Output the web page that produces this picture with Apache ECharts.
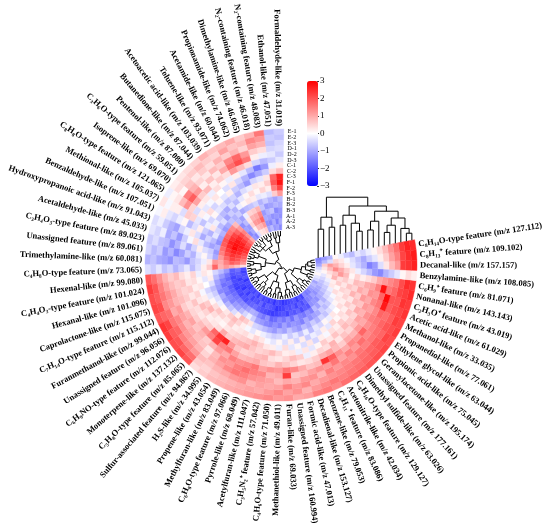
<!DOCTYPE html>
<html><head><meta charset="utf-8">
<script src="https://cdn.jsdelivr.net/npm/echarts@6/dist/echarts.min.js"></script>
<style>html,body{margin:0;padding:0;background:#fff}#c{width:550px;height:530px}</style>
</head><body><div id="c"></div>
<script>
const items = [
'Formaldehyde-like (m/z 31.019)','Ethanol-like (m/z 47.051)','N₂-containing feature (m/z 48.083)','N₂-containing feature (m/z 46.018)',
'Dimethylamine-like (m/z 46.065)','Propionamide-like (m/z 74.062)','Acetamide-like (m/z 60.044)','Toluene-like (m/z 93.071)',
'Acetoacetic acid-like (m/z 103.039)','Butanedione-like (m/z 87.044)','Pentenol-like (m/z 87.080)','C₃H₆O-type feature (m/z 59.051)',
'Isoprene-like (m/z 69.070)','C₈H₈O-type feature (m/z 121.065)','Methional-like (m/z 105.037)','Benzaldehyde-like (m/z 107.051)',
'Hydroxypropanoic acid-like (m/z 91.043)','Acetaldehyde-like (m/z 45.033)','C₃H₄O₃-type feature (m/z 89.023)','Unassigned feature (m/z 89.061)',
'Trimethylamine-like (m/z 60.081)','C₄H₈O-type feature (m/z 73.065)','Hexenal-like (m/z 99.080)','C₄H₄O₃-type feature (m/z 101.024)',
'Hexanal-like (m/z 101.096)','Caprolactone-like (m/z 115.075)','C₇H₁₄O-type feature (m/z 115.112)','Furanmethanol-like (m/z 99.044)',
'Unassigned feature (m/z 96.056)','C₆H₉NO-type feature (m/z 112.076)','Monoterpene-like (m/z 137.132)','C₅H₈O-type feature (m/z 85.065)',
'Sulfur-associated feature (m/z 94.867)','H₂S-like (m/z 34.995)','Propene-like (m/z 43.054)','Methylfuran-like (m/z 83.049)',
'C₆H₈O-type feature (m/z 97.066)','Pyrrole-like (m/z 68.049)','Acetylfuran-like (m/z 111.047)','C₃H₅N₂⁺ feature (m/z 57.042)',
'C₄H₆O-type feature (m/z 71.050)','Methanethiol-like (m/z 49.011)','Furan-like (m/z 69.033)','Unassigned feature (m/z 160.994)',
'Formic acid-like (m/z 47.013)','Decadienal-like (m/z 153.127)','Benzene-like (m/z 79.053)','C₆H₁₁⁺ feature (m/z 83.086)',
'Acetonitrile-like (m/z 42.034)','C₈H₁₆O-type feature (m/z 129.127)','Dimethyl sulfide-like (m/z 63.026)','Unassigned feature (m/z 177.161)',
'Geranylacetone-like (m/z 195.174)','Propionic acid-like (m/z 75.045)','Ethylene glycol-like (m/z 63.044)','Propanediol-like (m/z 77.061)',
'Methanol-like (m/z 33.035)','Acetic acid-like (m/z 61.029)','C₂H₃O⁺ feature (m/z 43.019)','Nonanal-like (m/z 143.143)',
'C₆H₉⁺ feature (m/z 81.071)','Benzylamine-like (m/z 108.085)','Decanal-like (m/z 157.157)','C₈H₁₃⁺ feature (m/z 109.102)',
'C₈H₁₄O-type feature (m/z 127.112)'
];
// rings, outer to inner
const rings = ['E-1','E-2','E-3','D-1','D-2','D-3','C-1','C-2','C-3','F-1','F-2','F-3','B-1','B-2','B-3','A-1','A-2','A-3'];
// z-scores per item, ring order as above
const values = [
[-0.6,-0.7,-0.5,-0.4,-0.6,-0.3,0.2,0.8,2.6,2.8,2.2,1.2,-0.8,-1.0,-1.2,-1.3,-1.0,-1.4],
[-0.8,-0.6,-0.7,-0.5,-0.3,-0.6,-0.2,0.4,1.8,2.0,1.5,0.6,-1.1,-0.9,-1.4,-1.2,-1.5,-1.1],
[1.6,1.2,0.9,0.4,-0.2,-0.8,-1.2,-0.6,0.3,0.6,0.2,-0.4,-0.9,-1.1,-0.7,-1.3,-1.0,-1.2],
[0.9,1.4,1.1,0.6,0.2,-0.5,-1.6,-1.0,-0.3,0.2,0.5,-0.2,-0.6,-1.2,-0.9,-1.1,-1.4,-0.8],
[0.6,0.8,0.5,1.2,1.6,0.4,-0.8,-1.4,-0.5,0.3,0.1,-0.3,-0.9,-0.7,-1.2,-1.0,-1.3,-1.1],
[1.0,0.7,0.9,1.8,2.1,0.8,-0.3,-0.9,-1.2,-0.2,0.4,0.2,-0.5,0.9,1.4,1.8,1.2,0.6],
[0.8,1.1,0.6,1.4,1.7,1.2,0.2,-0.5,-0.8,-0.4,0.1,0.3,-0.7,0.6,1.0,1.3,0.9,0.4],
[0.7,0.5,0.9,0.6,1.0,0.4,-0.2,0.3,-0.6,-0.9,-0.3,0.1,-0.8,0.5,0.9,1.2,0.8,0.3],
[0.9,0.6,0.4,0.8,0.3,0.6,0.1,-0.4,0.2,-0.5,-0.8,-0.2,-1.0,-0.2,0.3,0.5,0.2,-0.4],
[0.5,0.8,0.6,0.3,0.7,0.2,0.4,0.0,-0.3,-0.7,-0.4,-0.9,-0.6,-1.1,-0.8,-1.2,-1.0,-1.4],
[0.4,0.6,0.3,0.5,0.2,0.8,-0.2,0.3,0.1,-0.4,-1.0,-0.6,-0.9,-0.8,-1.3,-1.1,-1.4,-1.2],
[0.3,0.5,0.7,0.9,1.2,0.6,0.3,-0.1,-0.5,-0.3,-0.8,-1.1,-0.7,0.8,1.2,1.5,1.3,1.0],
[0.2,0.4,0.1,1.5,1.9,1.1,0.2,-0.3,0.4,0.1,-0.6,-0.4,-1.0,1.4,1.8,2.1,1.9,1.6],
[-0.2,0.1,0.3,0.8,1.3,0.5,-0.4,0.2,-0.1,-0.5,-0.2,-0.8,-1.2,1.6,2.2,2.5,2.3,2.0],
[0.3,-0.1,0.2,0.2,-0.4,0.6,0.5,-0.3,-0.7,-0.2,0.3,-0.5,-0.9,1.8,2.4,2.7,2.6,2.2],
[-0.1,0.2,-0.3,-0.5,-0.2,0.1,-0.8,-0.4,0.2,-0.6,-0.9,-0.3,-1.1,2.0,2.6,2.8,2.7,2.5],
[-0.4,-0.2,-0.6,-0.9,-1.1,-0.5,-0.2,0.3,-0.4,-1.0,-0.5,-0.8,-1.3,1.9,2.5,2.9,2.6,2.4],
[-0.3,-0.5,-0.2,-1.0,-0.7,-1.2,-0.6,-0.1,0.4,-0.3,-0.8,-1.1,-0.9,1.7,2.3,2.6,2.5,2.1],
[-0.6,-0.4,-0.7,-0.8,-1.3,-0.9,-0.4,-1.0,-0.5,0.2,-0.4,-0.6,-1.2,1.5,2.1,2.4,2.2,1.9],
[-0.5,-0.8,-0.6,-1.2,-0.9,-1.4,-1.1,-0.6,-0.9,-0.3,0.1,-0.5,-1.0,1.2,1.8,2.2,2.0,1.6],
[-0.9,-0.7,-1.0,-1.1,-1.3,-0.8,-0.9,-1.2,-0.7,-0.5,-0.2,0.3,1.2,1.0,1.5,1.9,1.7,1.3],
[-0.4,-0.6,-0.3,-0.7,-0.5,-0.9,-0.6,-0.3,-0.8,-0.4,0.2,0.6,1.8,0.9,1.2,1.0,0.7,0.4],
[2.0,1.7,1.3,0.9,0.6,0.8,0.4,0.2,0.5,-0.2,0.3,0.1,-0.5,-0.8,-1.2,-1.9,-1.7,-2.1],
[2.3,2.0,1.5,1.1,0.8,0.6,0.7,0.3,0.4,0.1,-0.3,0.2,-0.8,-1.2,-1.6,-2.0,-1.9,-2.3],
[2.1,1.9,1.6,1.3,1.0,0.7,0.5,0.6,0.2,0.3,0.0,-0.4,-1.1,-1.5,-1.8,-2.2,-2.0,-2.1],
[2.2,2.1,1.4,1.2,0.9,0.8,0.6,0.3,0.5,-0.1,-0.5,-0.8,-1.2,-1.7,-1.6,-2.1,-2.3,-2.0],
[2.0,1.8,1.7,1.0,1.2,0.6,0.4,0.7,0.3,0.2,-0.3,-0.6,-1.4,-1.5,-1.9,-2.2,-2.1,-2.4],
[2.4,2.2,1.6,1.4,1.1,0.9,0.5,0.4,0.8,0.6,0.1,-0.4,-1.0,-1.6,-1.8,-2.3,-2.2,-2.1],
[2.3,1.9,1.8,1.3,0.9,1.1,0.6,0.3,0.5,0.9,0.4,-0.2,-1.2,-1.4,-1.7,-2.1,-2.4,-2.2],
[2.1,2.0,1.5,1.2,1.0,0.7,0.8,0.5,0.2,0.4,0.7,0.1,-0.9,-1.5,-1.6,-2.2,-2.0,-2.3],
[2.2,1.8,1.4,1.1,0.8,0.9,1.2,0.6,0.3,0.2,0.5,0.3,-0.7,-1.2,-1.5,-2.0,-2.3,-2.1],
[2.0,1.7,1.2,0.9,0.7,0.6,1.5,1.8,0.4,0.1,0.3,0.6,-0.4,-1.1,-1.4,-2.1,-1.9,-2.2],
[0.4,0.6,0.8,0.5,0.3,0.9,2.2,2.4,1.0,0.3,0.6,0.8,0.2,-0.8,-1.3,-1.9,-2.2,-2.0],
[0.6,0.5,0.7,0.9,0.8,1.2,1.5,2.6,0.6,0.4,0.2,0.5,0.8,-0.5,-1.1,-1.8,-2.0,-2.3],
[0.8,0.7,0.9,1.1,1.3,1.0,1.6,1.2,0.8,0.5,0.3,0.2,0.6,-0.2,-0.9,-1.7,-2.1,-1.9],
[0.9,0.8,1.0,1.4,1.2,1.5,1.1,0.7,0.9,0.6,0.4,-0.1,0.3,-0.6,-1.0,-1.9,-1.8,-2.2],
[1.0,0.9,1.2,1.6,1.5,1.3,0.8,0.5,1.0,0.7,0.2,-0.3,-0.5,-1.1,-1.4,-2.0,-2.2,-2.1],
[1.1,1.0,1.3,1.5,1.7,1.4,0.9,0.6,0.7,0.9,0.5,0.1,-0.6,-1.2,-1.6,-2.1,-1.9,-2.3],
[1.2,1.1,0.9,1.3,1.5,1.6,1.0,0.8,0.5,0.6,0.3,-0.2,-0.8,-1.4,-1.3,-2.2,-2.0,-2.1],
[1.3,1.0,1.1,1.2,1.4,1.1,0.7,0.9,0.6,0.3,-0.1,-0.4,-1.0,-1.5,-1.8,-2.3,-2.1,-2.4],
[1.4,1.2,1.0,1.1,0.9,1.3,0.6,0.4,0.8,0.2,-0.3,-0.6,-1.2,-1.3,-1.7,-2.2,-2.4,-2.1],
[1.2,1.4,1.1,0.8,1.0,1.2,0.9,0.3,0.5,-0.2,0.1,-0.5,-0.9,-1.5,-1.4,-2.1,-2.3,-2.2],
[1.3,1.1,1.5,1.0,2.3,1.6,0.7,0.5,0.2,0.4,-0.4,-0.2,-1.1,-1.1,-1.6,-2.0,-2.2,-2.4],
[1.0,1.3,1.2,0.9,0.7,1.4,0.5,0.8,0.3,-0.3,0.2,-0.6,-0.7,-1.4,-1.3,-2.2,-2.0,-2.3],
[1.1,0.9,1.4,1.2,0.8,1.0,0.3,0.6,-0.2,0.1,-0.5,-0.3,-1.0,-1.2,-1.7,-1.9,-2.1,-2.2],
[1.5,1.2,1.0,1.3,1.1,0.7,0.4,-0.2,0.3,-0.4,0.2,-0.7,-1.2,-1.3,-1.2,-2.0,-1.9,-2.1],
[1.6,1.4,1.2,0.9,1.3,0.8,0.6,0.2,-0.3,0.3,-0.6,-0.2,-0.8,-1.5,-1.5,-1.8,-2.2,-2.0],
[1.4,1.6,1.3,1.5,1.2,2.4,0.9,0.5,0.1,-0.5,-0.2,-0.8,-1.0,-1.0,-1.6,-2.1,-1.9,-2.3],
[1.7,1.5,1.4,1.2,1.6,1.9,1.1,0.4,0.6,0.2,-0.4,-0.3,-0.6,-1.3,-1.3,-1.9,-2.1,-2.0],
[1.8,1.6,1.5,1.4,1.1,1.3,0.8,0.9,0.3,-0.1,0.2,-0.5,-0.9,-1.1,-1.5,-2.0,-1.8,-2.2],
[1.9,1.7,1.6,1.3,1.5,1.0,0.6,0.3,0.7,0.4,-0.3,0.1,-0.5,-1.0,-0.8,-1.3,-1.5,-1.4],
[2.0,1.8,1.7,1.6,1.2,1.4,1.0,0.7,0.4,0.2,0.5,-0.2,-0.7,-0.6,-1.1,-1.2,-1.4,-1.6],
[2.1,1.9,1.8,1.5,1.7,1.3,0.9,0.5,0.8,0.6,0.1,0.3,-0.4,-0.8,-0.6,-1.3,-1.1,-1.5],
[2.2,2.0,1.9,1.6,1.4,1.8,1.2,0.8,0.6,0.3,0.4,0.0,-0.2,-0.6,-0.9,-1.0,-1.3,-1.2],
[2.1,2.2,1.8,1.7,1.5,1.3,1.0,1.1,0.5,0.7,0.2,0.4,0.1,-0.3,-0.5,-0.9,-1.1,-1.0],
[2.3,2.1,2.0,1.8,1.6,1.5,1.3,0.9,1.0,0.4,0.6,0.2,0.3,-0.1,-0.4,-0.7,-1.0,-0.8],
[2.2,2.3,1.9,1.7,1.8,1.4,1.1,1.2,0.7,0.8,0.3,0.5,0.2,0.4,-0.2,-0.6,-0.8,-1.1],
[2.4,2.2,2.1,1.9,2.7,1.6,1.4,1.0,1.2,0.6,0.9,0.4,0.5,0.1,0.3,-0.4,-0.7,-0.5],
[2.3,2.4,2.0,2.0,2.9,1.8,1.2,1.3,0.8,1.0,0.5,0.7,0.3,0.6,0.2,-0.2,-0.5,-0.3],
[2.5,2.3,2.2,1.8,1.6,2.8,1.5,1.1,1.0,0.7,0.8,0.3,0.6,0.4,0.9,0.2,-0.3,0.1],
[2.4,2.5,2.1,1.6,1.4,1.2,1.0,0.6,0.4,0.2,0.5,0.1,0.8,1.2,0.7,0.4,0.1,-0.2],
[0.2,0.4,0.1,-0.3,-0.6,-0.9,-1.4,-1.2,-0.8,-0.5,-0.2,0.3,0.6,1.0,1.4,0.8,0.3,-0.5],
[2.6,2.4,2.3,1.2,0.8,0.3,-0.4,-1.2,-1.5,-0.9,-0.6,-0.3,0.2,0.5,0.9,1.2,0.6,-1.0],
[2.7,2.5,2.2,1.5,1.1,0.6,0.2,-0.3,-0.6,-1.0,-0.7,-0.4,-0.1,0.3,0.5,-0.4,-0.8,-1.3],
[2.5,2.6,2.3,1.7,1.3,0.8,0.4,0.1,-0.2,-0.5,-0.3,-0.8,-0.6,-0.2,0.1,-0.9,-1.2,-1.5]
];
// row (feature) clustering: [height, child, child...], leaves = item index
const rowTree = [1.0,
  [0.85,
    [0.6,
      [0.35, [0.15, 0, 1], [0.2, 2, 3]],
      [0.4, [0.22, [0.1, 4, 5], [0.12, 6, 7]], [0.28, [0.1, 8, 9], [0.16, 10, [0.08, 11, 12]], 13]]],
    [0.55,
      [0.3, [0.14, 14, 15], [0.18, 16, [0.09, 17, 18]]],
      [0.42, [0.2, 19, [0.1, 20, 21]], [0.25, [0.12, 22, 23], [0.1, 24, 25]]]]],
  [0.92,
    [0.7,
      [0.45, [0.22, [0.1, 26, 27], [0.13, 28, 29]], [0.3, [0.15, 30, 31], [0.18, 32, 33]]],
      [0.5, [0.25, [0.12, 34, 35], [0.1, 36, 37]], [0.33, [0.14, 38, 39], [0.2, 40, [0.08, 41, 42]]]]],
    [0.75,
      [0.48, [0.26, [0.11, 43, 44], [0.15, 45, 46]], [0.3, [0.12, 47, 48], [0.17, 49, 50]]],
      [0.62, [0.35, [0.14, 51, 52], [0.2, 53, [0.09, 54, 55]]],
             [0.4, [0.18, [0.1, 56, 57], 58], [0.28, [0.13, 59, 60], [0.22, [0.1, 61, 62], [0.12, 63, 64]]]]]]]
];
// column (sample) clustering, leaves = ring index
const colTree = [1.0,
  [0.5, [0.2, 17, 16], [0.25, 15, 14]],
  [0.78,
    [0.55, [0.3, 13, 12], [0.35, 11, [0.15, 10, 9]]],
    [0.65, [0.4, [0.18, 8, 7], 6], [0.48, [0.3, [0.12, 5, 4], 3], [0.22, 2, [0.1, 1, 0]]]]]
];

const GAP = 18;
const angleCats = items.concat(Array.from({length: GAP}, (_, i) => '_gap' + i));
const NCAT = angleCats.length;

const heatData = [];
items.forEach((_, i) => rings.forEach((_, k) => heatData.push([k, i, values[i][k]])));

const rowSegs = [];
function buildRow(node) {
  if (typeof node === 'number') return {h: 0, v: node + 0.5};
  const h = node[0];
  const kids = node.slice(1).map(buildRow);
  kids.forEach(k => rowSegs.push([0, k.h, h, k.v, k.v]));
  const vs = kids.map(k => k.v);
  const v0 = Math.min(...vs), v1 = Math.max(...vs);
  rowSegs.push([1, h, h, v0, v1]);
  return {h, v: (v0 + v1) / 2};
}
buildRow(rowTree);

const FONT = '"Liberation Serif","Times New Roman",serif';
const chart = echarts.init(document.getElementById('c'), null, {renderer: 'canvas'});
const off = {axisLine: {show: false}, axisTick: {show: false}, axisLabel: {show: false}, splitLine: {show: false}, splitArea: {show: false}};

chart.setOption({
  animation: false,
  backgroundColor: '#fff',
  polar: [
    {center: [281, 265], radius: [35, 136]},
    {center: [281, 265], radius: [1, 34]}
  ],
  angleAxis: [
    Object.assign({polarIndex: 0, type: 'category', data: angleCats, startAngle: 88.8, clockwise: false, boundaryGap: true}, off),
    Object.assign({polarIndex: 1, type: 'value', min: 0, max: NCAT, startAngle: 88.8, clockwise: false}, off)
  ],
  radiusAxis: [
    {polarIndex: 0, type: 'category', data: rings, inverse: true,
     axisLine: {show: false}, axisTick: {show: false}, splitLine: {show: false},
     axisLabel: {show: true, interval: 0, fontSize: 6, fontFamily: FONT, color: '#000', margin: -4, align: 'left'}},
    Object.assign({polarIndex: 1, type: 'value', min: 0, max: 1, inverse: true}, off)
  ],
  grid: {left: 317, top: 81, width: 1, height: 105},
  xAxis: {type: 'value', show: false},
  yAxis: {type: 'value', min: -3, max: 3, interval: 1, position: 'right',
    axisLine: {show: false}, splitLine: {show: false},
    axisTick: {show: true, length: 2, lineStyle: {color: '#000', width: 0.8}},
    axisLabel: {fontSize: 9, fontFamily: FONT, color: '#000', margin: 2,
      formatter: v => String(v).replace('-', '\u2212')}},
  visualMap: {
    type: 'continuous', seriesIndex: 0, dimension: 2, min: -3, max: 3,
    inRange: {color: ['#0000ff', '#ffffff', '#ff0000']},
    left: 307, top: 81, itemWidth: 11, itemHeight: 105, padding: 0,
    calculable: false, text: null, hoverLink: false, orient: 'vertical'
  },
  series: [
    {
      type: 'custom', coordinateSystem: 'polar', polarIndex: 0, silent: true,
      data: heatData, encode: {radius: 0, angle: 1},
      renderItem(params, api) {
        const p = api.coord([api.value(0), api.value(1)]);
        const s = api.size([1, 1]);
        const cs = params.coordSys;
        const col = api.visual('color');
        return {type: 'sector', shape: {cx: cs.cx, cy: cs.cy, r0: p[2] - s[0] / 2, r: p[2] + s[0] / 2,
          startAngle: -p[3] - s[1] / 2, endAngle: -p[3] + s[1] / 2, clockwise: true},
          style: {fill: col, stroke: col, lineWidth: 0.4}};
      }
    },
    {
      type: 'custom', coordinateSystem: 'polar', polarIndex: 0, silent: true,
      data: items.map((_, i) => [0, i]), encode: {radius: 0, angle: 1},
      renderItem(params, api) {
        const i = params.dataIndex;
        const cs = params.coordSys;
        const p = api.coord([0, i]);
        const a = p[3];
        const R = cs.r + 3;
        const deg = ((a * 180 / Math.PI) % 360 + 360) % 360;
        const right = deg < 90 || deg > 270;
        return {type: 'text', x: cs.cx + R * Math.cos(a), y: cs.cy - R * Math.sin(a),
          rotation: right ? a : a - Math.PI,
          style: {text: items[i], align: right ? 'left' : 'right', verticalAlign: 'middle',
            fontSize: 8.6, fontWeight: 'bold', fontFamily: FONT, fill: '#000'}};
      }
    },
    {
      type: 'custom', coordinateSystem: 'polar', polarIndex: 1, silent: true,
      data: rowSegs, encode: {radius: 1, angle: 3},
      renderItem(params, api) {
        const t = api.value(0), h1 = api.value(1), h2 = api.value(2), v1 = api.value(3), v2 = api.value(4);
        const cs = params.coordSys;
        if (t === 0) {
          const a = api.coord([h1, v1]), b = api.coord([h2, v1]);
          return {type: 'line', shape: {x1: a[0], y1: a[1], x2: b[0], y2: b[1]}, style: {stroke: '#000', lineWidth: 1}};
        }
        const a = api.coord([h1, v1]), b = api.coord([h1, v2]);
        return {type: 'arc', shape: {cx: cs.cx, cy: cs.cy, r: a[2], startAngle: -a[3], endAngle: -b[3], clockwise: false},
          style: {stroke: '#000', fill: null, lineWidth: 1}};
      }
    },
    {
      type: 'custom', coordinateSystem: 'polar', polarIndex: 0, silent: true,
      data: [[0, items.length - 1]], encode: {radius: 0, angle: 1},
      renderItem(params, api) {
        const cs = params.coordSys;
        const half = api.size([1, 1])[1] / 2;
        const leaf = k => {
          const p = api.coord([k, items.length - 1]);
          const a = p[3] + half;
          return [cs.cx + p[2] * Math.cos(a), cs.cy - p[2] * Math.sin(a)];
        };
        const top = leaf(0)[1] - 3;
        const H = 40;
        const children = [];
        const ls = {stroke: '#000', lineWidth: 1};
        function walk(node) {
          if (typeof node === 'number') return leaf(node);
          const y = top - node[0] * H;
          const pts = node.slice(1).map(walk);
          pts.forEach(p => children.push({type: 'line', shape: {x1: p[0], y1: p[1], x2: p[0], y2: y}, style: ls}));
          const xs = pts.map(p => p[0]);
          const x0 = Math.min(...xs), x1 = Math.max(...xs);
          children.push({type: 'line', shape: {x1: x0, y1: y, x2: x1, y2: y}, style: ls});
          return [(x0 + x1) / 2, y];
        }
        walk(colTree);
        return {type: 'group', children};
      }
    }
  ]
});
</script>
</body></html>
